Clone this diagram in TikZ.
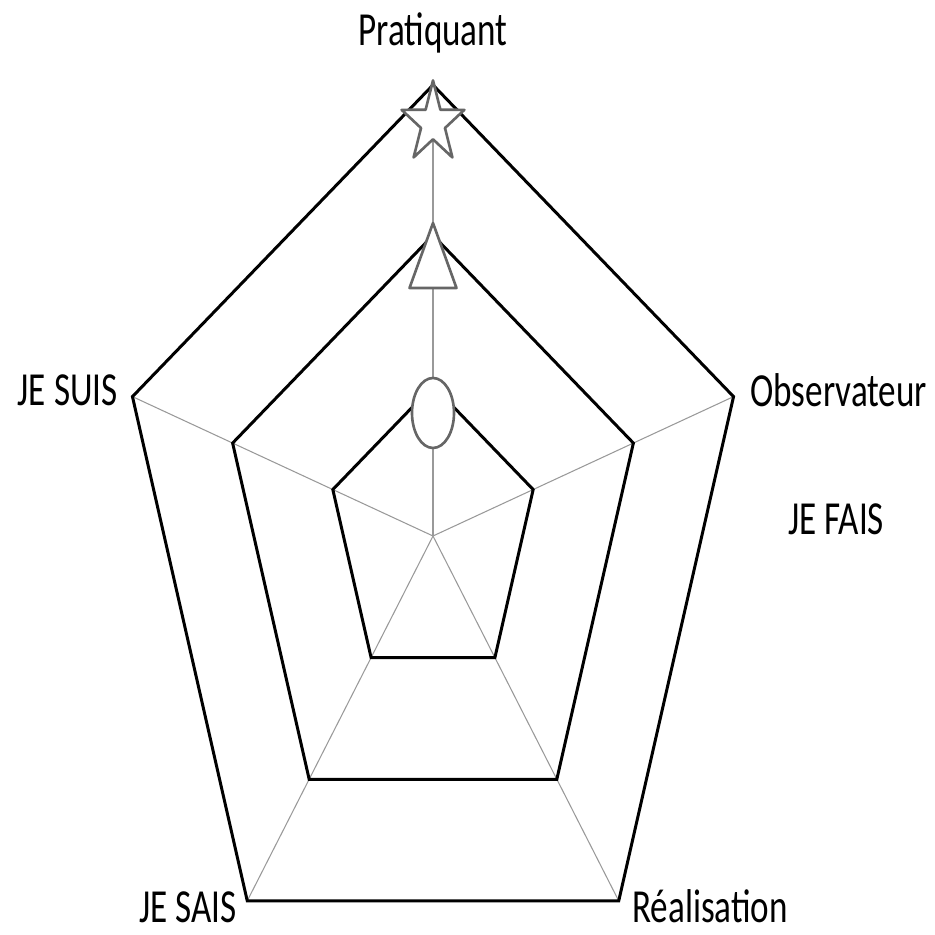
\documentclass[tikz,border=0pt]{standalone}
\usepackage{fontspec}
\setmainfont{Carlito}
\usetikzlibrary{positioning, calc}
\newcommand{\etiq}[1]{\scalebox{0.74}[1]{#1}}

\begin{document}
\begin{tikzpicture}[x=0.02cm, y=0.02cm,
    rayon/.style={draw=black!40, line width=0.6pt},
    niveau/.style={draw=black, line width=1.7pt, line join=miter},
    repere/.style={draw=black!60, fill=white, line width=1.5pt, line join=round},
    lbl/.style={inner sep=0pt, font=\fontsize{27}{30}\selectfont}]
  \useasboundingbox (-433,-399) rectangle (502,536);

  \coordinate (O) at (0,0);
  \foreach \lv/\f in {a/0.3333, b/0.6667, c/1}
    \foreach \i/\ang in {1/90, 2/18, 3/-54, 4/-126, 5/162}
      \coordinate (\lv\i) at ({\ang}:{316*\f} and {451*\f});

  \foreach \i in {1,...,5}
    \draw[rayon] (O) -- (c\i);

  \foreach \lv in {a,b,c}
    \draw[niveau] (\lv1) -- (\lv2) -- (\lv3) -- (\lv4) -- (\lv5) -- cycle;

  \draw[repere] (0,123) ellipse [x radius=21, y radius=35];
  \draw[repere] (0,313) -- (23.5,248) -- (-23.5,248) -- cycle;
  \draw[repere] plot[samples at={0,...,9}, variable=\k]
    ({(mod(\k,2)==0 ? 33 : 12.6)*cos(90+36*\k)},
     {413+(mod(\k,2)==0 ? 42.6 : 16.3)*sin(90+36*\k)}) -- cycle;

  \node[lbl, anchor=base] (prat) at (0,490) {\etiq{Pratiquant}};
  \node[lbl, anchor=base west] (obs) at (317,129) {\etiq{Observateur}};
  \node[lbl, anchor=base west] (fais) at (355,1) {\etiq{JE FAIS}};
  \node[lbl, anchor=base west] (real) at (199,-386) {\etiq{Réalisation}};
  \node[lbl, anchor=base east] (sais) at (-196,-386) {\etiq{JE SAIS}};
  \node[lbl, anchor=base east] (suis) at (-315,130) {\etiq{JE SUIS}};
\end{tikzpicture}
\end{document}
